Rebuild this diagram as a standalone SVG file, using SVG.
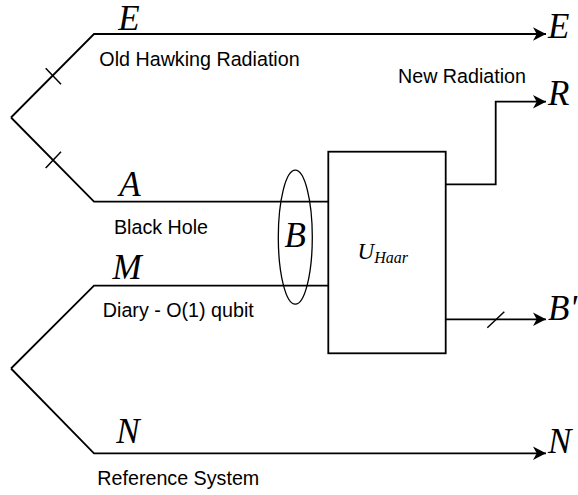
<svg xmlns="http://www.w3.org/2000/svg" width="578" height="495" viewBox="0 0 578 495">
  <style>
    .ln { fill: none; stroke: #000; stroke-width: 1.8; }
    .tk { fill: none; stroke: #000; stroke-width: 1.5; }
    .sans { font-family: "Liberation Sans", Arial, Helvetica, sans-serif; font-size: 19.7px; fill: #000; }
    .math { font-family: "Liberation Serif", "Times New Roman", serif; font-style: italic; font-size: 35px; fill: #000; }
  </style>
  <defs>
    <marker id="arr" markerUnits="userSpaceOnUse" viewBox="-15 -8 16 16" markerWidth="16" markerHeight="16" refX="0" refY="0" orient="auto">
      <path d="M0,0 L-13,-6.8 L-9.3,0 L-13,6.8 Z" fill="#000"/>
    </marker>
  </defs>
  <rect width="578" height="495" fill="#fff"/>

  <g id="connectors">
    <path class="ln" d="M11,117.5 L94,34 H546" marker-end="url(#arr)"/>
    <path class="ln" d="M11,117.5 L94,201.7 H328.3"/>
    <path class="tk" d="M45.7,68.3 L61,84.3"/>
    <path class="tk" d="M45.7,168 L61,151.7"/>
    <path class="ln" d="M11,368.5 L94,285.7 H328.3"/>
    <path class="ln" d="M11,368.5 L94,453.3 H546" marker-end="url(#arr)"/>
    <path class="ln" d="M445.7,184.3 H495.7 V101.7 H546" marker-end="url(#arr)"/>
    <path class="ln" d="M445.7,319.3 H546" marker-end="url(#arr)"/>
    <path class="tk" d="M487.3,327.7 L504.3,311.7"/>
  </g>

  <g id="node-uhaar">
    <rect x="328.3" y="151.7" width="117.4" height="201.6" fill="#fff" stroke="#000" stroke-width="1.8"/>
    <text x="357.5" y="259.3" font-family="Liberation Serif, serif" font-style="italic" font-size="23">U<tspan font-size="16" dy="3.4">Haar</tspan></text>
  </g>

  <g id="node-B">
    <ellipse cx="295.3" cy="237.2" rx="17" ry="67" fill="none" stroke="#000" stroke-width="1.3"/>
    <text class="math" x="295.3" y="247.3" text-anchor="middle">B</text>
  </g>

  <g id="label-E-in">
    <text class="math" x="129" y="30" text-anchor="middle" font-size="30">E</text>
    <text class="sans" x="199.5" y="66" text-anchor="middle">Old Hawking Radiation</text>
  </g>
  <g id="label-A">
    <text class="math" x="130" y="196" text-anchor="middle">A</text>
    <text class="sans" x="161" y="234" text-anchor="middle">Black Hole</text>
  </g>
  <g id="label-M">
    <text class="math" x="127" y="279.3" text-anchor="middle">M</text>
    <text class="sans" x="178.3" y="316.7" text-anchor="middle">Diary - O(1) qubit</text>
  </g>
  <g id="label-N-in">
    <text class="math" x="128" y="443.3" text-anchor="middle">N</text>
    <text class="sans" x="178.3" y="485" text-anchor="middle">Reference System</text>
  </g>
  <g id="label-R">
    <text class="sans" x="462" y="83" text-anchor="middle">New Radiation</text>
  </g>

  <g id="out-E"><text class="math" x="548" y="38.3">E</text></g>
  <g id="out-R"><text class="math" x="548" y="105">R</text></g>
  <g id="out-B"><text class="math" x="548" y="320">B'</text></g>
  <g id="out-N"><text class="math" x="548" y="453.3">N</text></g>
</svg>
